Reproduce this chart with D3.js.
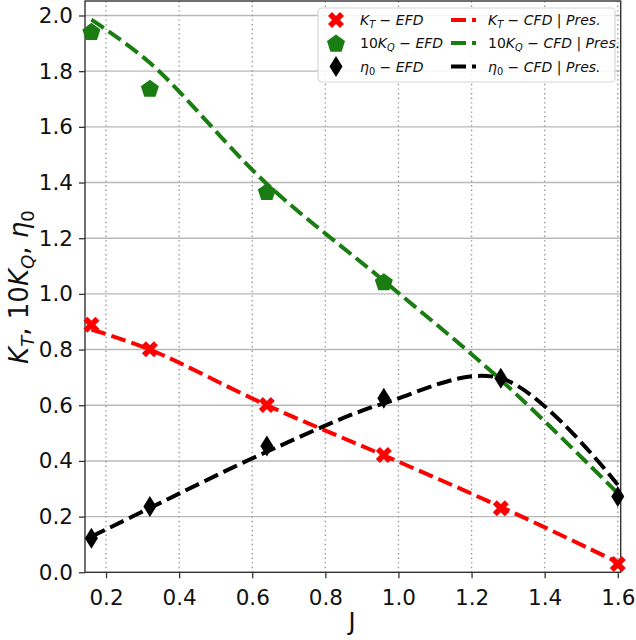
<!DOCTYPE html>
<html lang="en">
<head>
    <meta charset="UTF-8">
    <title>KT, 10KQ, eta0 vs J</title>
    <script src="https://cdn.jsdelivr.net/npm/d3@7"></script>
    <style>
        body { margin: 0; background: #fff; }
        text { font-family: "DejaVu Sans", sans-serif; }
    </style>
</head>
<body>
<svg id="chart" width="636" height="640"></svg>
<script>
    // advance ratio
    const J = [0.16, 0.32, 0.64, 0.96, 1.28, 1.6];

    // experiment (markers)
    const ktEFD  = [0.889, 0.801, 0.601, 0.421, 0.230, 0.030];
    const kqEFD  = [1.943, 1.739, 1.368, 1.044];
    const etaEFD = [0.122, 0.236, 0.454, 0.625, 0.697, 0.272];

    // CFD (dashed lines)
    const ktCFD  = [0.872, 0.800, 0.600, 0.420, 0.235, 0.036];
    const kqCFD  = [1.985, 1.830, 1.395, 1.047, 0.691, 0.284];
    const etaCFD = [0.128, 0.231, 0.433, 0.607, 0.697, 0.314];

    const xTicks = [0.2, 0.4, 0.6, 0.8, 1.0, 1.2, 1.4, 1.6];
    const yTicks = [0.0, 0.2, 0.4, 0.6, 0.8, 1.0, 1.2, 1.4, 1.6, 1.8, 2.0];

    const svg = d3.select("#chart");
    const pL = 85, pR = 620.7, pT = 1, pB = 572.3;

    const x = d3.scaleLinear().domain([0.1425, 1.608]).range([pL, pR]);
    const y = d3.scaleLinear().domain([0, 2.052]).range([pB, pT]);

    // grid
    svg.append("g").selectAll("line")
        .data(yTicks.filter(d => d > 0))
        .enter().append("line")
        .attr("x1", pL).attr("x2", pR)
        .attr("y1", d => y(d)).attr("y2", d => y(d))
        .attr("stroke", "#b8b8b8").attr("stroke-width", 1.4);

    svg.append("g").selectAll("line")
        .data(xTicks)
        .enter().append("line")
        .attr("x1", d => x(d)).attr("x2", d => x(d))
        .attr("y1", pT).attr("y2", pB)
        .attr("stroke", "#999").attr("stroke-width", 1.4)
        .attr("stroke-dasharray", "1.4,3.2");

    // axes
    const xAxis = svg.append("g")
        .attr("transform", `translate(0,${pB})`)
        .call(d3.axisBottom(x).tickValues(xTicks).tickFormat(d3.format(".1f")).tickSize(6).tickPadding(6));
    const yAxis = svg.append("g")
        .attr("transform", `translate(${pL},0)`)
        .call(d3.axisLeft(y).tickValues(yTicks).tickFormat(d3.format(".1f")).tickSize(6).tickPadding(6));

    [xAxis, yAxis].forEach(g => {
        g.select(".domain").remove();
        g.selectAll("line").attr("stroke", "#333").attr("stroke-width", 1.3);
        g.selectAll("text").attr("font-size", 21.5).attr("fill", "#111")
            .attr("font-family", "DejaVu Sans");
    });
    xAxis.selectAll("text").attr("dy", "0.95em");

    // frame
    svg.append("rect")
        .attr("x", pL).attr("y", pT)
        .attr("width", pR - pL).attr("height", pB - pT)
        .attr("fill", "none").attr("stroke", "#333").attr("stroke-width", 1.4);

    // dashed CFD lines
    const line = d3.line()
        .x((d, i) => x(J[i]))
        .y(d => y(d))
        .curve(d3.curveCatmullRom.alpha(0.5));

    const cfd = [
        { vals: ktCFD, color: "#ff0000" },
        { vals: kqCFD, color: "#1a7d12" },
        { vals: etaCFD, color: "#000" }
    ];
    cfd.forEach(s => {
        svg.append("path")
            .datum(s.vals)
            .attr("d", line)
            .attr("fill", "none")
            .attr("stroke", s.color)
            .attr("stroke-width", 4)
            .attr("stroke-dasharray", "15,6");
    });

    // marker shapes
    function pentagon(r) {
        const p = d3.range(5).map(k => {
            const t = -Math.PI / 2 + k * 2 * Math.PI / 5;
            return [r * Math.cos(t), r * Math.sin(t)];
        });
        return "M" + p.join("L") + "Z";
    }
    function thinDiamond(w, h) {
        return `M0,${-h}L${w},0L0,${h}L${-w},0Z`;
    }
    function marker(parent, shape, color, px, py) {
        let p;
        if (shape === "x") {
            p = parent.append("path").attr("d", d3.symbol(d3.symbolCross, 160)())
                .attr("transform", `translate(${px},${py}) rotate(45)`);
        } else if (shape === "pent") {
            p = parent.append("path").attr("d", pentagon(9.5))
                .attr("transform", `translate(${px},${py + 1})`);
        } else {
            p = parent.append("path").attr("d", thinDiamond(6.5, 10.5))
                .attr("transform", `translate(${px},${py})`);
        }
        p.attr("fill", color);
    }

    const efd = [
        { vals: kqEFD, color: "#1a7d12", shape: "pent" },
        { vals: ktEFD, color: "#ff0000", shape: "x" },
        { vals: etaEFD, color: "#000", shape: "d" }
    ];
    efd.forEach(s => {
        s.vals.forEach((v, i) => marker(svg, s.shape, s.color, x(J[i]), y(v)));
    });

    // math-like text: parts = [text, style]; i italic, s italic sub, u upright sub, n normal
    function addMath(parent, xPos, yPos, parts, size) {
        const t = parent.append("text")
            .attr("x", xPos).attr("y", yPos)
            .attr("font-size", size).attr("fill", "#111");
        let shifted = false;
        parts.forEach(([txt, st]) => {
            const ts = t.append("tspan").text(txt);
            const isSub = st === "s" || st === "u";
            if (isSub && !shifted) { ts.attr("dy", size * 0.22); shifted = true; }
            if (!isSub && shifted) { ts.attr("dy", -size * 0.22); shifted = false; }
            if (isSub) ts.attr("font-size", size * 0.7);
            if (st === "i" || st === "s") ts.attr("font-style", "italic");
        });
        return t;
    }

    // legend
    const lg = svg.append("g");
    lg.append("rect")
        .attr("x", 318).attr("y", 8).attr("width", 297).attr("height", 74)
        .attr("rx", 4)
        .attr("fill", "#fff").attr("fill-opacity", 0.85)
        .attr("stroke", "#d6d6d6").attr("stroke-width", 1.2);

    const rowsY = [20, 43, 66.5];
    const fs = 14;
    const efdLabels = [
        [["K", "i"], ["T", "s"], [" \u2212 ", "n"], ["EFD", "i"]],
        [["10", "n"], ["K", "i"], ["Q", "s"], [" \u2212 ", "n"], ["EFD", "i"]],
        [["\u03B7", "i"], ["0", "u"], [" \u2212 ", "n"], ["EFD", "i"]]
    ];
    const cfdLabels = [
        [["K", "i"], ["T", "s"], [" \u2212 ", "n"], ["CFD", "i"], [" | ", "n"], ["Pres.", "i"]],
        [["10", "n"], ["K", "i"], ["Q", "s"], [" \u2212 ", "n"], ["CFD", "i"], [" | ", "n"], ["Pres.", "i"]],
        [["\u03B7", "i"], ["0", "u"], [" \u2212 ", "n"], ["CFD", "i"], [" | ", "n"], ["Pres.", "i"]]
    ];
    const legendOrder = [
        { color: "#ff0000", shape: "x" },
        { color: "#1a7d12", shape: "pent" },
        { color: "#000", shape: "d" }
    ];
    legendOrder.forEach((s, i) => {
        const cy = rowsY[i];
        marker(lg, s.shape, s.color, 336, cy);
        addMath(lg, 360, cy + 5, efdLabels[i], fs);

        lg.append("line")
            .attr("x1", 451).attr("x2", 476)
            .attr("y1", cy).attr("y2", cy)
            .attr("stroke", s.color).attr("stroke-width", 4)
            .attr("stroke-dasharray", "15,6");
        addMath(lg, 488, cy + 5, cfdLabels[i], fs);
    });

    // axis titles
    svg.append("text")
        .attr("x", 352).attr("y", 630)
        .attr("text-anchor", "middle")
        .attr("font-size", 24).attr("fill", "#111")
        .text("J");

    const yl = addMath(svg, 0, 0, [["K", "i"], ["T", "s"], [", 10", "n"], ["K", "i"], ["Q", "s"], [", ", "n"], ["\u03B7", "i"], ["0", "u"]], 26);
    yl.attr("text-anchor", "middle")
        .attr("transform", "translate(28,287) rotate(-90)");
</script>
</body>
</html>
